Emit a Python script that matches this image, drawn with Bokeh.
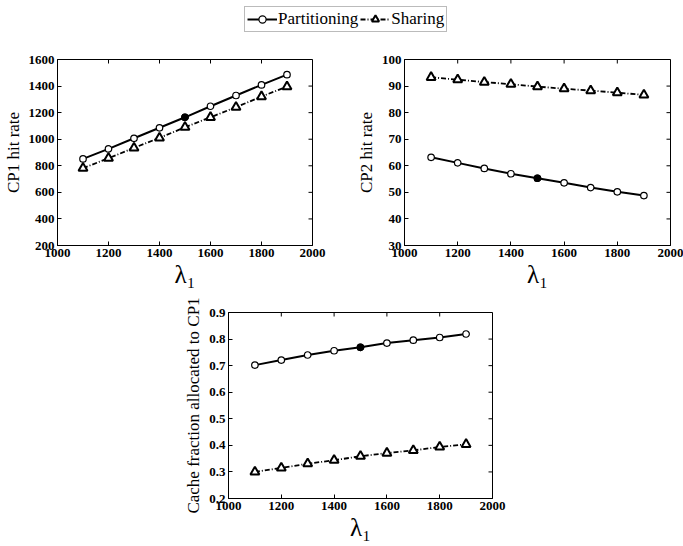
from bokeh.plotting import figure
from bokeh.layouts import column, row
from bokeh.models import (Range1d, FixedTicker, Legend, LegendItem,
                          Spacer, ColumnDataSource)
from bokeh.embed import file_html
from bokeh.resources import INLINE
import math

# ---------------- data ----------------
lam = [1100, 1200, 1300, 1400, 1500, 1600, 1700, 1800, 1900]
cp1_part = [852, 927, 1007, 1086, 1165, 1248, 1329, 1409, 1486]
cp1_share = [782, 857, 935, 1010, 1090, 1165, 1241, 1321, 1396]
cp2_part = [63.2, 61.1, 59.0, 57.0, 55.3, 53.6, 51.8, 50.2, 48.8]
cp2_share = [93.3, 92.4, 91.5, 90.7, 89.8, 89.0, 88.3, 87.5, 86.7]
frac_part = [0.702, 0.721, 0.740, 0.756, 0.769, 0.785, 0.796, 0.806, 0.819]
frac_share = [0.300, 0.315, 0.331, 0.344, 0.359, 0.371, 0.381, 0.394, 0.404]

x_ticks = [1000, 1200, 1400, 1600, 1800, 2000]
cp1_ticks = [200, 400, 600, 800, 1000, 1200, 1400, 1600]
cp2_ticks = [30, 40, 50, 60, 70, 80, 90, 100]
frac_ticks = [0.2, 0.3, 0.4, 0.5, 0.6, 0.7, 0.8, 0.9]

series_names = ["Partitioning", "Sharing"]
x_label = "λ₁"

FONT = "Liberation Serif"
SHARE_DASH = "5 2 1 2"


def style_axis(ax, ticks):
    ax.ticker = FixedTicker(ticks=ticks)
    ax.major_tick_in = 4
    ax.major_tick_out = 0
    ax.minor_tick_line_color = None
    ax.axis_line_color = "black"
    ax.major_tick_line_color = "black"
    ax.major_label_text_font = FONT
    ax.major_label_text_font_style = "bold"
    ax.major_label_text_font_size = "13px"
    ax.major_label_text_color = "black"
    ax.major_label_standoff = 3
    ax.axis_label_text_font = FONT
    ax.axis_label_text_font_style = "normal"
    ax.axis_label_text_color = "black"


def make_fig(yticks, ylabel, width, height, bl, br, bt, bb, ys, yp):
    p = figure(width=width, height=height, x_range=Range1d(x_ticks[0], x_ticks[-1]),
               y_range=Range1d(yticks[0], yticks[-1]), output_backend="svg",
               toolbar_location=None, min_border_left=bl, min_border_right=br,
               min_border_top=bt, min_border_bottom=bb)
    p.xgrid.visible = False
    p.ygrid.visible = False
    p.outline_line_color = "black"
    style_axis(p.xaxis[0], x_ticks)
    style_axis(p.yaxis[0], yticks)
    p.xaxis[0].axis_label = x_label
    p.xaxis[0].axis_label_text_font_size = "25px"
    p.xaxis[0].axis_label_standoff = 1
    p.yaxis[0].axis_label = ylabel
    p.yaxis[0].axis_label_text_font_size = "17px"
    p.yaxis[0].axis_label_standoff = 3

    # inward ticks on the top and right edges of the box
    p.ray(x=x_ticks, y=[yticks[-1]] * len(x_ticks), length=4, length_units="screen",
          angle=-math.pi / 2, line_color="black", line_width=1)
    p.ray(x=[x_ticks[-1]] * len(yticks), y=yticks, length=4, length_units="screen",
          angle=math.pi, line_color="black", line_width=1)

    src = ColumnDataSource(dict(x=lam, yp=yp, ys=ys))
    p.line("x", "yp", source=src, line_color="black", line_width=2)
    p.scatter("x", "yp", source=src, marker="circle", size=6.5,
              fill_color="white", line_color="black", line_width=1.2)
    # the middle Partitioning marker appears filled in the original
    p.scatter([lam[4]], [yp[4]], marker="circle", size=6.5,
              fill_color="black", line_color="black", line_width=1.2)
    p.line("x", "ys", source=src, line_color="black", line_width=1.8,
           line_dash=SHARE_DASH)
    p.scatter("x", "ys", source=src, marker="triangle", size=9,
              fill_color="white", line_color="black", line_width=2)
    return p


# legend figure
p0 = figure(width=683, height=35, output_backend="svg", toolbar_location=None,
            x_range=Range1d(0, 1), y_range=Range1d(0, 1), min_border=0)
p0.axis.visible = False
p0.grid.visible = False
p0.outline_line_color = None
lr1 = p0.line([-5, -4], [-5, -4], line_color="black", line_width=2)
sr1 = p0.scatter([-5], [-5], marker="circle", size=6.5, fill_color="white",
                 line_color="black", line_width=1.2)
lr2 = p0.line([-5, -4], [-5, -4], line_color="black", line_width=1.8,
              line_dash=SHARE_DASH)
sr2 = p0.scatter([-5], [-5], marker="triangle", size=9, fill_color="white",
                 line_color="black", line_width=2)
leg = Legend(items=[LegendItem(label=series_names[0], renderers=[lr1, sr1]),
                    LegendItem(label=series_names[1], renderers=[lr2, sr2])],
             orientation="horizontal", location=(244, 3), margin=0,
             padding=2, spacing=2, label_standoff=1, glyph_width=30,
             glyph_height=18, label_text_font=FONT, label_text_font_size="17px",
             label_text_color="black", border_line_color="#777777",
             border_line_width=1, label_height=18, background_fill_alpha=0)
p0.add_layout(leg, "center")

p1 = make_fig(cp1_ticks, "CP1 hit rate", 340, 292 - 35, 53, 28, 24, 47,
              cp1_share, cp1_part)
p2 = make_fig(cp2_ticks, "CP2 hit rate", 343, 292 - 35, 64, 13, 24, 47,
              cp2_share, cp2_part)
p3 = make_fig(frac_ticks, "Cache fraction allocated to CP1",
              352, 544 - 292, 68, 20, 20, 46, frac_share, frac_part)

layout = column(p0, row(p1, p2), row(Spacer(width=160, height=544 - 292), p3))

open("out.html", "w").write(file_html(layout, INLINE))
